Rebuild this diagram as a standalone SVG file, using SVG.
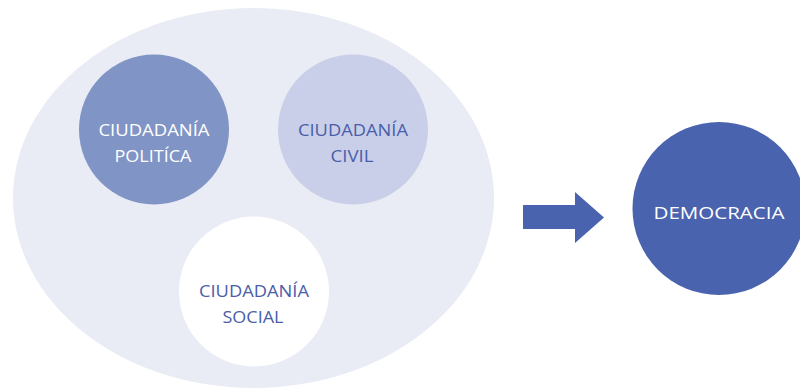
<svg xmlns="http://www.w3.org/2000/svg" width="800" height="390" viewBox="0 0 800 390">
<style>
.t{font-family:"Open Sans","Noto Sans","Liberation Sans",sans-serif;font-size:17px;text-anchor:middle}
.w{fill:#FFFFFF}
.b{fill:#4A5EAA}
</style>
<rect width="800" height="390" fill="#FFFFFF"/>
<g id="contenedor"><ellipse cx="253.5" cy="198" rx="240.5" ry="190" fill="#E9ECF4"/></g>
<g id="politica">
<circle cx="154" cy="129.5" r="75" fill="#8094C6"/>
<text class="t w" x="154" y="136" textLength="111" lengthAdjust="spacingAndGlyphs">CIUDADANÍA</text>
<text class="t w" x="153" y="162" textLength="77" lengthAdjust="spacingAndGlyphs">POLITÍCA</text>
</g>
<g id="civil">
<circle cx="353" cy="129.5" r="75" fill="#C9CFE8"/>
<text class="t b" x="353" y="136" textLength="110" lengthAdjust="spacingAndGlyphs">CIUDADANÍA</text>
<text class="t b" x="352" y="162" textLength="43" lengthAdjust="spacingAndGlyphs">CIVIL</text>
</g>
<g id="social">
<circle cx="254" cy="291.5" r="75" fill="#FFFFFF"/>
<text class="t b" x="254" y="297" textLength="110" lengthAdjust="spacingAndGlyphs">CIUDADANÍA</text>
<text class="t b" x="253" y="323" textLength="61" lengthAdjust="spacingAndGlyphs">SOCIAL</text>
</g>
<g id="connectors">
<polygon points="523,205 575,205 575,192 604,217.5 575,243 575,229 523,229" fill="#4A63AE"/>
</g>
<g id="democracia">
<circle cx="719" cy="208.5" r="86.5" fill="#4A63AE"/>
<text class="t w" x="719" y="219" textLength="131" lengthAdjust="spacingAndGlyphs">DEMOCRACIA</text>
</g>
</svg>
